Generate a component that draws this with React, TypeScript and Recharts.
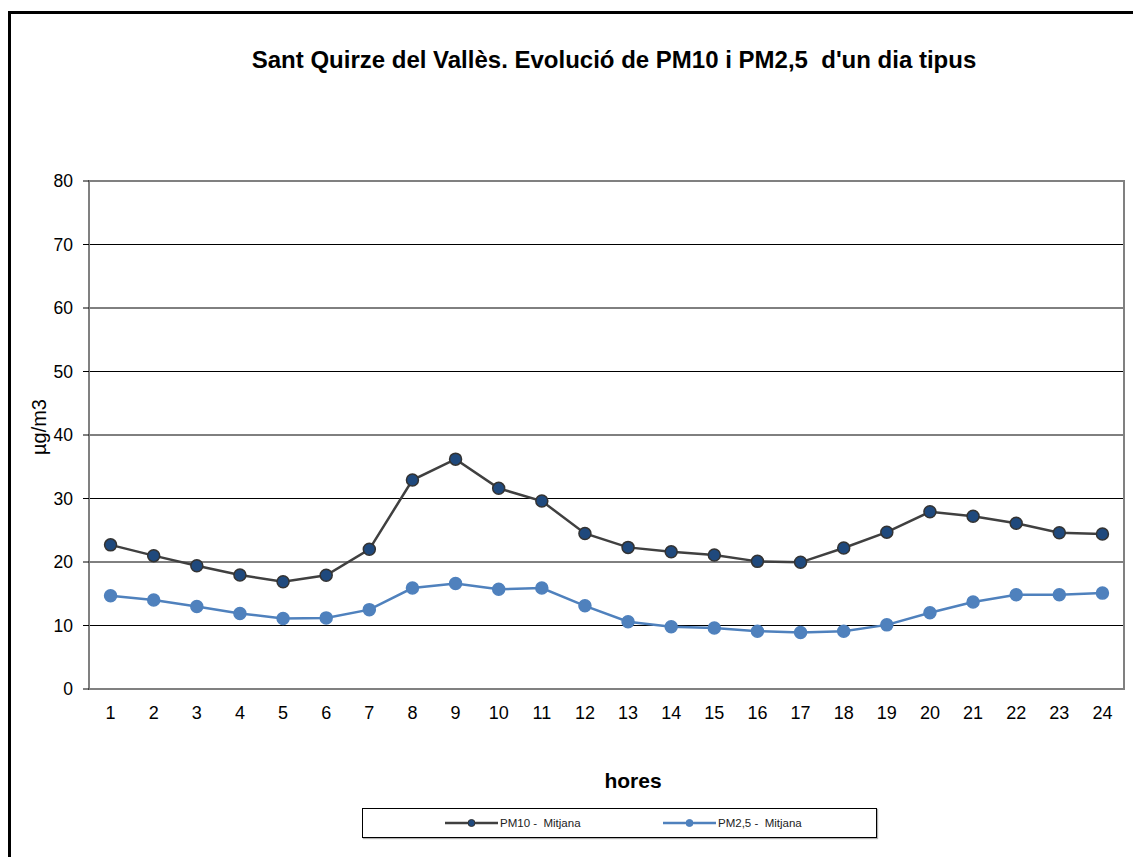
import React from "react";
import { LineChart, Line, XAxis, YAxis, CartesianGrid, ReferenceArea } from "recharts";

const HOURS = [1, 2, 3, 4, 5, 6, 7, 8, 9, 10, 11, 12, 13, 14, 15, 16, 17, 18, 19, 20, 21, 22, 23, 24];
const PM10 = [22.7, 21.0, 19.4, 17.95, 16.9, 17.9, 22.0, 32.9, 36.2, 31.6, 29.6, 24.5, 22.3, 21.6, 21.1, 20.1, 19.95, 22.2, 24.7, 27.9, 27.2, 26.1, 24.6, 24.4];
const PM25 = [14.7, 14.0, 13.0, 11.9, 11.1, 11.2, 12.5, 15.9, 16.6, 15.7, 15.9, 13.1, 10.6, 9.8, 9.6, 9.1, 8.9, 9.1, 10.1, 12.0, 13.7, 14.85, 14.85, 15.1];
const Y_TICKS = [0, 10, 20, 30, 40, 50, 60, 70, 80];
const BOUNDS = [0.5, 1.5, 2.5, 3.5, 4.5, 5.5, 6.5, 7.5, 8.5, 9.5, 10.5, 11.5, 12.5, 13.5, 14.5, 15.5, 16.5, 17.5, 18.5, 19.5, 20.5, 21.5, 22.5, 23.5, 24.5];

const SERIES = [
  { key: "pm10", name: "PM10 -  Mitjana", line: "#404040", dot: "#1f497d", dotStroke: "#333333", legendLeft: 82 },
  { key: "pm25", name: "PM2,5 -  Mitjana", line: "#4f81bd", dot: "#4f81bd", dotStroke: "#4f81bd", legendLeft: 300 },
];

const FONT = "'Liberation Sans', Arial, sans-serif";

function LegendBox() {
  return (
    <div
      style={{
        position: "absolute",
        left: 354,
        top: 800,
        width: 515,
        height: 30,
        boxSizing: "border-box",
        border: "1px solid #000",
        boxShadow: "1px 1px 1px rgba(0,0,0,0.3)",
        fontFamily: FONT,
        fontSize: 11.5,
        color: "#222",
        background: "#fff",
      }}
    >
      {SERIES.map((s) => (
        <div
          key={s.key}
          style={{ position: "absolute", left: s.legendLeft, top: 0, height: 28, display: "flex", alignItems: "center" }}
        >
          <svg width={53} height={10}>
            <line x1={0} y1={5} x2={53} y2={5} stroke={s.line} strokeWidth={2.5} />
            <circle cx={26.5} cy={5} r={3.5} fill={s.dot} stroke={s.dotStroke} strokeWidth={1} />
          </svg>
          <span style={{ marginLeft: 2, whiteSpace: "pre" }}>{s.name}</span>
        </div>
      ))}
    </div>
  );
}

export default function App() {
  const data = HOURS.map((h, i) => ({ hour: h, pm10: PM10[i], pm25: PM25[i] }));

  return (
    <div style={{ position: "relative", width: 1133, height: 849, overflow: "hidden", background: "#fff" }}>
      <div
        style={{
          position: "absolute",
          left: 0,
          top: 3,
          width: 1160,
          height: 880,
          border: "3px solid #000",
          boxSizing: "border-box",
        }}
      />
      <div
        style={{
          position: "absolute",
          left: 0,
          width: 1212,
          top: 38,
          textAlign: "center",
          fontFamily: FONT,
          fontWeight: "bold",
          fontSize: 24,
          color: "#000",
          whiteSpace: "pre",
        }}
      >
        Sant Quirze del Vallès. Evolució de PM10 i PM2,5  d'un dia tipus
      </div>
      <div
        style={{
          position: "absolute",
          left: 31,
          top: 419,
          transform: "translate(-50%, -50%) rotate(-90deg)",
          fontFamily: FONT,
          fontSize: 20,
          color: "#000",
          whiteSpace: "nowrap",
        }}
      >
        µg/m3
      </div>
      <div
        style={{
          position: "absolute",
          left: 525,
          width: 200,
          top: 761,
          textAlign: "center",
          fontFamily: FONT,
          fontWeight: "bold",
          fontSize: 21,
          color: "#000",
        }}
      >
        hores
      </div>
      <div style={{ position: "absolute", left: 0, top: 0 }}>
        <LineChart
          width={1133}
          height={849}
          data={data}
          margin={{ top: 173, right: 17, bottom: 138, left: 21 }}
          style={{ fontFamily: FONT }}
        >
          <CartesianGrid horizontal vertical={false} stroke="#000" strokeWidth={1} />
          <XAxis
            xAxisId="b"
            dataKey="hour"
            type="number"
            domain={[0.5, 24.5]}
            ticks={BOUNDS}
            allowDataOverflow
            height={0}
            tickSize={6}
            tickFormatter={() => ""}
            tickLine={{ stroke: "#000" }}
            axisLine={false}
          />
          <XAxis
            dataKey="hour"
            type="number"
            domain={[0.5, 24.5]}
            ticks={HOURS}
            allowDataOverflow
            height={30}
            tickSize={6}
            tickMargin={11}
            tickLine={false}
            axisLine={false}
            interval={0}
            tick={{ fontSize: 18, fill: "#000" }}
          />
          <YAxis
            domain={[0, 80]}
            ticks={Y_TICKS}
            width={60}
            tickSize={6}
            tickMargin={10}
            tickLine={{ stroke: "#000" }}
            axisLine={false}
            tick={{ fontSize: 17.5, fill: "#000" }}
            interval={0}
          />
          <ReferenceArea x1={0.5} x2={24.5} y1={0} y2={80} fill="none" stroke="#808080" strokeWidth={2} ifOverflow="visible" />
          {SERIES.map((s) => (
            <Line
              key={s.key}
              dataKey={s.key}
              name={s.name}
              type="linear"
              stroke={s.line}
              strokeWidth={2.5}
              dot={{ r: 6, fill: s.dot, stroke: s.dotStroke, strokeWidth: 1.5 }}
              isAnimationActive={false}
            />
          ))}
        </LineChart>
      </div>
      <LegendBox />
    </div>
  );
}
